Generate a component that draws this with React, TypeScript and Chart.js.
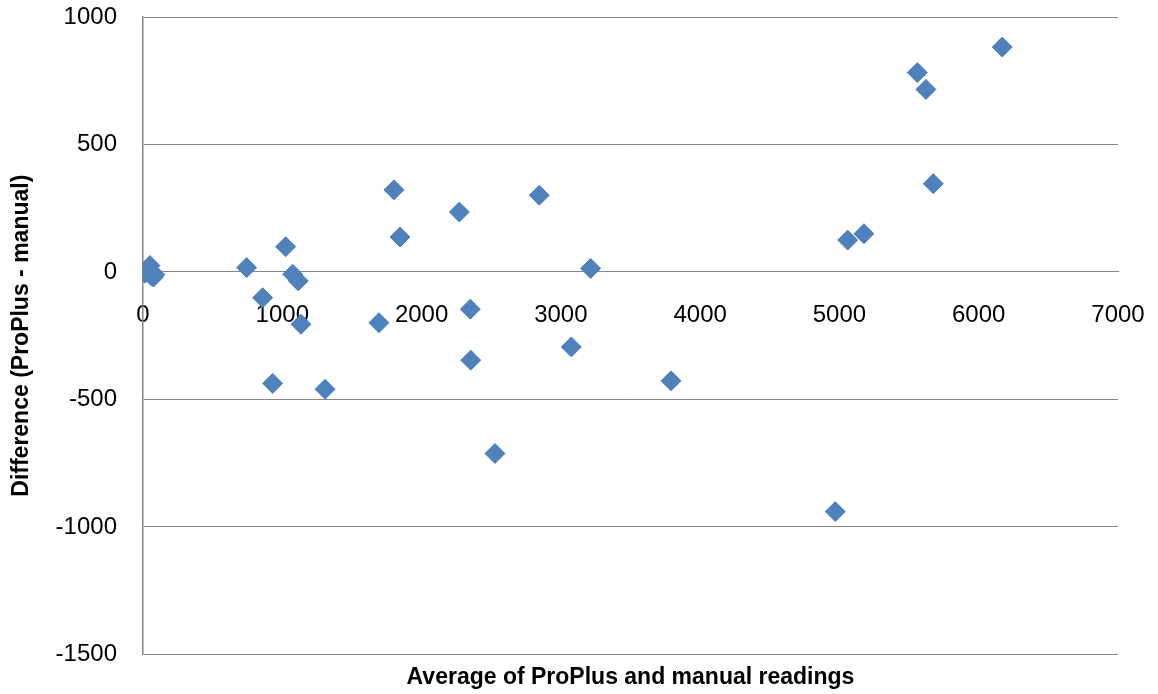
import React, { useEffect, useRef } from "react";
import { Chart, registerables } from "chart.js";

Chart.register(...registerables);

const averages = [0, 15, 35, 50, 60, 75, 85, 744, 1024, 1075, 1115, 859, 1134, 931, 1307, 1694, 1802, 1845, 2271, 2350, 2353, 2527, 2845, 3214, 3075, 3791, 4970, 5059, 5176, 5559, 5621, 5674, 6169];
const differences = [0, -5, 10, 25, -15, -20, -10, 17, 99, -9, -35, -101, -205, -437, -460, -199, 322, 137, 235, -146, -346, -712, 301, 14, -294, -427, -940, 125, 150, 782, 716, 346, 882];
const xTickValues = [0, 1000, 2000, 3000, 4000, 5000, 6000, 7000];
const yTickValues = [-1500, -1000, -500, 0, 500, 1000];
const xTitle = "Average of ProPlus and manual readings";
const yTitle = "Difference (ProPlus - manual)";

export default function App() {
  const ref = useRef<HTMLCanvasElement | null>(null);
  useEffect(() => {
    if (!ref.current) return;
    const points = averages.map((x, i) => ({ x, y: differences[i] }));
    const gridColor = "#868686";
    const chart = new Chart(ref.current, {
      type: "scatter",
      data: {
        datasets: [
          {
            data: points,
            pointStyle: "rectRot",
            pointRadius: 10,
            pointBorderWidth: 1,
            backgroundColor: "#4F81BD",
            borderColor: "#4F81BD",
          },
        ],
      },
      options: {
        animation: false,
        responsive: false,
        layout: { padding: { top: 17, right: 40, left: 0, bottom: 0 } },
        plugins: {
          legend: { display: false },
          tooltip: { enabled: false },
          title: {
            display: true,
            position: "bottom",
            fullSize: false,
            text: xTitle,
            color: "#000",
            font: { family: "Liberation Sans", size: 23, weight: "bold" },
            padding: { top: 9, bottom: 3 },
          },
        },
        scales: {
          x: {
            type: "linear",
            min: 0,
            max: 7000,
            position: { y: 0 } as any,
            afterBuildTicks: (s: any) => {
              s.ticks = xTickValues.map((v) => ({ value: v }));
            },
            afterFit: (s: any) => {
              s.paddingLeft = 0;
              s.paddingRight = 0;
              s.paddingTop = 0;
              s.paddingBottom = 0;
            },
            grid: { display: false, drawTicks: false },
            border: { display: true, color: gridColor, width: 1 },
            ticks: {
              color: "#000",
              padding: 29,
              maxRotation: 0,
              font: { family: "Liberation Sans", size: 24 },
              callback: (v: any) => String(v),
            },
          },
          y: {
            type: "linear",
            min: -1500,
            max: 1000,
            afterBuildTicks: (s: any) => {
              s.ticks = yTickValues.map((v) => ({ value: v }));
            },
            afterFit: (s: any) => {
              s.width = 143;
              s.paddingTop = 0;
              s.paddingBottom = 0;
            },
            grid: { color: gridColor, lineWidth: 1, drawTicks: false },
            border: { display: true, color: gridColor, width: 1.5 },
            ticks: {
              color: "#000",
              padding: 26,
              font: { family: "Liberation Sans", size: 24 },
              callback: (v: any) => String(v),
            },
            title: {
              display: true,
              text: yTitle,
              color: "#000",
              font: { family: "Liberation Sans", size: 23, weight: "bold" },
              padding: { top: 8, bottom: 0 },
            },
          },
        },
      },
    } as any);
    return () => chart.destroy();
  }, []);
  return (
    <div style={{ position: "absolute", left: 0, top: 0, width: 1158, height: 694, background: "#fff" }}>
      <canvas ref={ref} width={1158} height={694} />
    </div>
  );
}
